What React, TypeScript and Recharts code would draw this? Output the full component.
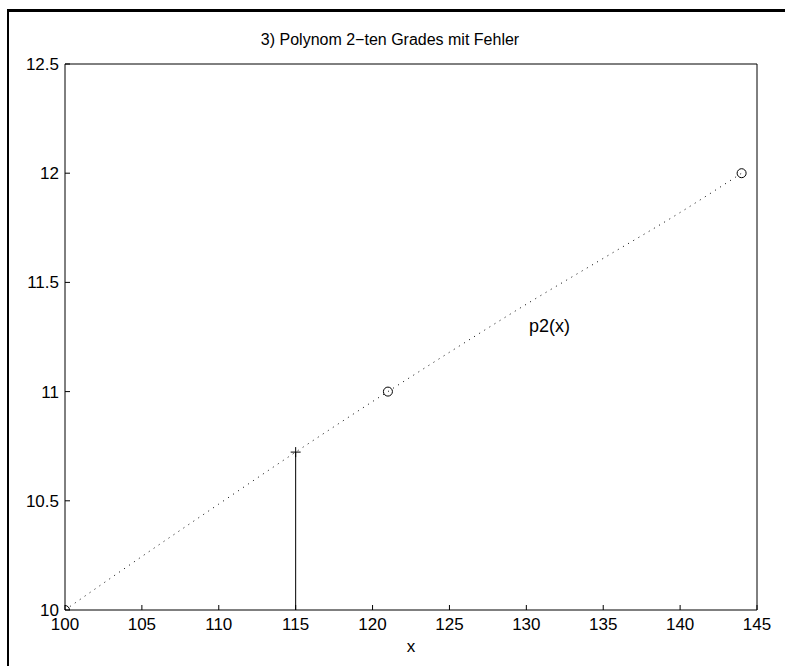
import React from "react";
import {
  ComposedChart,
  Line,
  Scatter,
  XAxis,
  YAxis,
  ReferenceDot,
} from "recharts";

// stützstellen (circles)
const nodesX = [100, 121, 144];
const nodesY = [10, 11, 12];

// p2(x)
const curveX = [100, 105, 110, 115, 121, 125, 130, 135, 140, 144];
const curveY = [10, 10.245, 10.485, 10.723, 11, 11.18, 11.4, 11.61, 11.82, 12];

// error stem at x = 115
const stemX = [115, 115];
const stemY = [10, 10.723];

const xTicks = [100, 105, 110, 115, 120, 125, 130, 135, 140, 145];
const yTicks = [10, 10.5, 11, 11.5, 12, 12.5];

const titleText = "3) Polynom 2\u2212ten Grades mit Fehler";
const xLabel = "x";
const curveLabel = "p2(x)";

const nodes = nodesX.map((x, i) => ({ x, y: nodesY[i] }));
const curve = curveX.map((x, i) => ({ x, y: curveY[i] }));
const stem = stemX.map((x, i) => ({ x, y: stemY[i] }));
const errPoint = [stem[1]];

const font = "'Liberation Sans', Arial, sans-serif";

const OpenCircle = (props: any) => (
  <circle cx={props.cx} cy={props.cy} r={4.5} fill="none" stroke="#000" strokeWidth={1} />
);

const Plus = (props: any) => (
  <g stroke="#000" strokeWidth={1}>
    <line x1={props.cx - 5} y1={props.cy} x2={props.cx + 5} y2={props.cy} />
    <line x1={props.cx} y1={props.cy - 5} x2={props.cx} y2={props.cy + 5} />
  </g>
);

export default function App() {
  const tickStyle = { fill: "#000", fontSize: 17, fontFamily: font };
  return (
    <div style={{ position: "absolute", left: 0, top: 0, width: 785, height: 666, background: "#fff", overflow: "hidden" }}>
      <div
        style={{
          position: "absolute",
          left: 7,
          top: 9,
          width: 778,
          height: 657,
          boxSizing: "border-box",
          borderLeft: "2px solid #000",
          borderTop: "3px solid #000",
        }}
      />
      <span
        style={{
          position: "absolute",
          left: 390,
          top: 31,
          transform: "translateX(-50%)",
          whiteSpace: "nowrap",
          fontFamily: font,
          fontSize: 16,
        }}
      >
        {titleText}
      </span>
      <div style={{ position: "absolute", left: 0, top: 0 }}>
        <ComposedChart width={785} height={666} margin={{ top: 63, right: 27, bottom: 26, left: 8 }}>
          <XAxis
            xAxisId={0}
            type="number"
            dataKey="x"
            domain={[100, 145]}
            ticks={xTicks}
            allowDataOverflow
            height={30}
            tickSize={-5}
            tickMargin={13}
            tick={tickStyle}
            stroke="#000"
            label={{ value: xLabel, position: "insideBottom", offset: -12, fill: "#000", fontSize: 17, fontFamily: font }}
          />
          <XAxis
            xAxisId="top"
            orientation="top"
            type="number"
            dataKey="x"
            domain={[100, 145]}
            ticks={xTicks}
            allowDataOverflow
            height={1}
            tickSize={-5}
            tick={false}
            stroke="#000"
          />
          <YAxis
            yAxisId={0}
            type="number"
            dataKey="y"
            domain={[10, 12.5]}
            ticks={yTicks}
            allowDataOverflow
            width={57}
            tickSize={-5}
            tickMargin={11}
            tick={tickStyle}
            stroke="#000"
          />
          <YAxis
            yAxisId="right"
            orientation="right"
            type="number"
            dataKey="y"
            domain={[10, 12.5]}
            ticks={yTicks}
            allowDataOverflow
            width={1}
            tickSize={-5}
            tick={false}
            stroke="#000"
          />
          <Line
            data={curve}
            dataKey="y"
            type="monotone"
            stroke="#000"
            strokeWidth={1}
            strokeDasharray="1 5"
            dot={false}
            activeDot={false}
            isAnimationActive={false}
          />
          <Line
            data={stem}
            dataKey="y"
            type="linear"
            stroke="#000"
            strokeWidth={1}
            dot={false}
            activeDot={false}
            isAnimationActive={false}
          />
          <Scatter data={nodes} dataKey="y" shape={<OpenCircle />} isAnimationActive={false} />
          <Scatter data={errPoint} dataKey="y" shape={<Plus />} isAnimationActive={false} />
          <ReferenceDot
            x={131.5}
            y={11.3}
            r={1}
            fill="none"
            stroke="none"
            label={{ value: curveLabel, position: "center", fill: "#000", fontSize: 18, fontFamily: font }}
          />
        </ComposedChart>
      </div>
    </div>
  );
}
